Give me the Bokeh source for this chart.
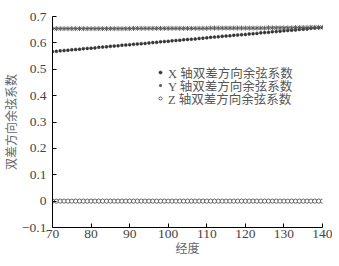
from bokeh.plotting import figure
from bokeh.models import Range1d, FixedTicker, Legend, LegendItem
from bokeh.embed import file_html
from bokeh.resources import INLINE

longitude = [70, 71, 72, 73, 74, 75, 76, 77, 78, 79,
             80, 81, 82, 83, 84, 85, 86, 87, 88, 89,
             90, 91, 92, 93, 94, 95, 96, 97, 98, 99,
             100, 101, 102, 103, 104, 105, 106, 107, 108, 109,
             110, 111, 112, 113, 114, 115, 116, 117, 118, 119,
             120, 121, 122, 123, 124, 125, 126, 127, 128, 129,
             130, 131, 132, 133, 134, 135, 136, 137, 138, 139, 140]

x_cos = [0.567, 0.568, 0.570, 0.571, 0.572, 0.574, 0.575, 0.576, 0.578, 0.579,
         0.580, 0.581, 0.583, 0.584, 0.585, 0.587, 0.588, 0.589, 0.591, 0.592,
         0.593, 0.595, 0.596, 0.597, 0.598, 0.600, 0.601, 0.602, 0.604, 0.605,
         0.606, 0.608, 0.609, 0.610, 0.612, 0.613, 0.614, 0.615, 0.617, 0.618,
         0.619, 0.621, 0.622, 0.623, 0.625, 0.626, 0.627, 0.629, 0.630, 0.631,
         0.632, 0.634, 0.635, 0.636, 0.638, 0.639, 0.640, 0.642, 0.643, 0.644,
         0.646, 0.647, 0.648, 0.649, 0.651, 0.652, 0.653, 0.655, 0.656, 0.657, 0.659]

y_cos = [0.654, 0.654, 0.654, 0.654, 0.654, 0.654, 0.654, 0.654, 0.654, 0.654,
         0.654, 0.654, 0.654, 0.654, 0.654, 0.654, 0.654, 0.654, 0.654, 0.654,
         0.654, 0.655, 0.655, 0.655, 0.655, 0.655, 0.655, 0.655, 0.655, 0.655,
         0.655, 0.655, 0.655, 0.655, 0.655, 0.655, 0.655, 0.655, 0.655, 0.655,
         0.655, 0.656, 0.656, 0.656, 0.656, 0.656, 0.656, 0.656, 0.656, 0.656,
         0.656, 0.656, 0.656, 0.656, 0.656, 0.656, 0.657, 0.657, 0.657, 0.657,
         0.657, 0.657, 0.657, 0.658, 0.658, 0.658, 0.658, 0.659, 0.659, 0.659, 0.659]

z_cos = [0.0, 0.0, 0.0, 0.0, 0.0, 0.0, 0.0, 0.0, 0.0, 0.0,
         0.0, 0.0, 0.0, 0.0, 0.0, 0.0, 0.0, 0.0, 0.0, 0.0,
         0.0, 0.0, 0.0, 0.0, 0.0, 0.0, 0.0, 0.0, 0.0, 0.0,
         0.0, 0.0, 0.0, 0.0, 0.0, 0.0, 0.0, 0.0, 0.0, 0.0,
         0.0, 0.0, 0.0, 0.0, 0.0, 0.0, 0.0, 0.0, 0.0, 0.0,
         0.0, 0.0, 0.0, 0.0, 0.0, 0.0, 0.0, 0.0, 0.0, 0.0,
         0.0, 0.0, 0.0, 0.0, 0.0, 0.0, 0.0, 0.0, 0.0, 0.0, 0.0]

x_ticks = [70, 80, 90, 100, 110, 120, 130, 140]
y_ticks = [-0.1, 0.0, 0.1, 0.2, 0.3, 0.4, 0.5, 0.6, 0.7]
y_tick_labels = ["\u22120.1", "0", "0.1", "0.2", "0.3", "0.4", "0.5", "0.6", "0.7"]

series_labels = ["X 轴双差方向余弦系数", "Y 轴双差方向余弦系数", "Z 轴双差方向余弦系数"]
x_label = "经度"
y_label = "双差方向余弦系数"

CJK = "Liberation Serif, Noto Sans CJK SC"

p = figure(frame_width=270, frame_height=211, output_backend="svg",
           toolbar_location=None, x_range=Range1d(70, 140), y_range=Range1d(-0.1, 0.7),
           min_border_left=52, min_border_top=16, min_border_right=10, min_border_bottom=31)
p.outline_line_color = None
p.grid.visible = False
p.background_fill_color = "white"
p.border_fill_color = "white"

rx = p.scatter(longitude, x_cos, marker="circle", size=3, fill_color="#333333", line_color="#333333", line_width=0.5)
ry = p.scatter(longitude, y_cos, marker="asterisk", size=5, line_color="#555555", line_width=0.9)
rz = p.scatter(longitude, z_cos, marker="circle", size=4.2, fill_color="white", line_color="#444444", line_width=0.8)

for ax in (p.xaxis[0], p.yaxis[0]):
    ax.axis_line_color = "black"
    ax.axis_line_width = 1
    ax.major_tick_in = 4
    ax.major_tick_out = 0
    ax.minor_tick_line_color = None
    ax.major_tick_line_color = "black"
    ax.major_label_text_font = "Liberation Serif"
    ax.major_label_text_font_size = "13.5px"
    ax.major_label_text_color = "#444444"
    ax.axis_label_text_font = CJK
    ax.axis_label_text_font_size = "12px"
    ax.axis_label_text_font_style = "normal"
    ax.axis_label_text_color = "#666666"

p.xaxis[0].ticker = FixedTicker(ticks=x_ticks)
p.yaxis[0].ticker = FixedTicker(ticks=y_ticks)
p.yaxis[0].major_label_overrides = {t: l for t, l in zip(y_ticks, y_tick_labels)}
p.xaxis[0].axis_label = x_label
p.yaxis[0].axis_label = y_label
p.xaxis[0].major_label_standoff = 2
p.xaxis[0].axis_label_standoff = 1
p.yaxis[0].major_label_standoff = 6
p.yaxis[0].axis_label_standoff = 0

legend_bottoms = [145.5, 132.5, 119.5]
for lbl, r, yb in zip(series_labels, [rx, ry, rz], legend_bottoms):
    lg = Legend(items=[LegendItem(label=lbl, renderers=[r])],
                location=(104, yb), padding=0, margin=0, spacing=0,
                border_line_color=None, background_fill_alpha=0,
                glyph_width=8, glyph_height=12, label_height=12, label_standoff=4,
                label_text_font=CJK, label_text_font_size="12.5px",
                label_text_color="#555555")
    p.add_layout(lg, "center")

open("out.html", "w").write(file_html(p, INLINE))
